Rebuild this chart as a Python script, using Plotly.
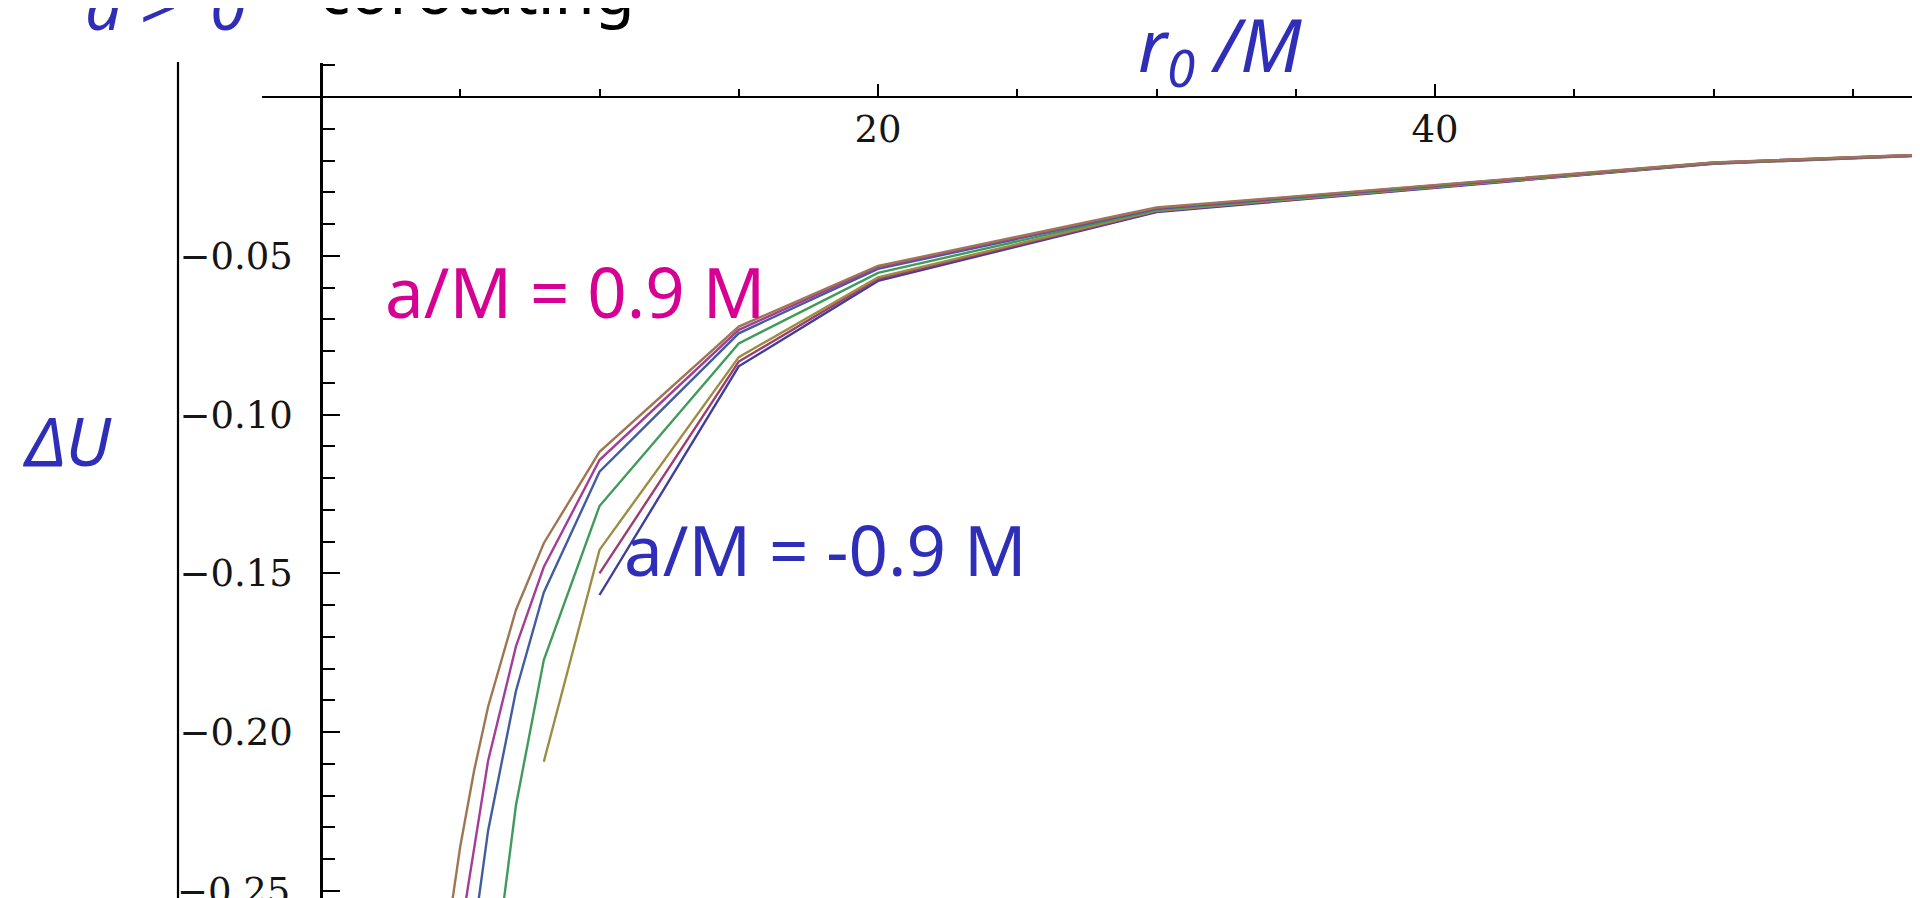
import plotly.graph_objects as go

# ---------------- data ----------------
spins = ["-0.9", "-0.6", "-0.3", "0", "0.3", "0.6", "0.9"]

r0_m09 = [10, 15, 20, 30, 50, 60]
dU_m09 = [-0.1568, -0.0848, -0.0579, -0.0362, -0.0210, -0.0176]

r0_m06 = [10, 15, 20, 30, 50, 60]
dU_m06 = [-0.1500, -0.0833, -0.0573, -0.0360, -0.0209, -0.0175]

r0_m03 = [8, 10, 15, 20, 30, 50, 60]
dU_m03 = [-0.2093, -0.1426, -0.0819, -0.0568, -0.0358, -0.0209, -0.0175]

r0_p00 = [6, 7, 8, 10, 15, 20, 30, 50, 60]
dU_p00 = [-0.292, -0.223, -0.1773, -0.1288, -0.0776, -0.0554, -0.0355, -0.0208, -0.0174]

r0_p03 = [5.5, 6, 7, 8, 10, 15, 20, 30, 50, 60]
dU_p03 = [-0.263, -0.231, -0.187, -0.156, -0.118, -0.0744, -0.0541, -0.0352, -0.0207, -0.0174]

r0_p06 = [5, 5.5, 6, 7, 8, 10, 15, 20, 30, 50, 60]
dU_p06 = [-0.264, -0.237, -0.209, -0.173, -0.148, -0.1143, -0.0733, -0.0536, -0.0350, -0.0207, -0.0174]

r0_p09 = [4.5, 5, 5.5, 6, 7, 8, 10, 15, 20, 30, 50, 60]
dU_p09 = [-0.266, -0.236, -0.212, -0.192, -0.1615, -0.1405, -0.1117, -0.0723, -0.0532, -0.0348, -0.0206, -0.0173]

x_tickvals = [20, 40]
x_ticktext = ["20", "40"]
x_minorvals = [5, 10, 15, 25, 30, 35, 45, 50, 55]
y_tickvals = [-0.05, -0.10, -0.15, -0.20, -0.25]
y_ticktext = ["\u22120.05", "\u22120.10", "\u22120.15", "\u22120.20", ""]
y_edge_label = "\u22120.25"          # bottom label, cut by the picture edge
y_edge_value = -0.25
y_minorvals = [0.01, -0.01, -0.02, -0.03, -0.04, -0.06, -0.07, -0.08, -0.09,
               -0.11, -0.12, -0.13, -0.14, -0.16, -0.17, -0.18, -0.19,
               -0.21, -0.22, -0.23, -0.24]

series = [
    (r0_m09, dU_m09, "rgb(62,62,155)"),
    (r0_m06, dU_m06, "rgb(160,60,112)"),
    (r0_m03, dU_m03, "rgb(158,140,66)"),
    (r0_p00, dU_p00, "rgb(64,155,90)"),
    (r0_p03, dU_p03, "rgb(66,92,160)"),
    (r0_p06, dU_p06, "rgb(165,60,150)"),
    (r0_p09, dU_p09, "rgb(158,118,82)"),
]

# ---------------- layout geometry ----------------
# the page body has an 8px margin, so figure pixel = screen pixel - 8
OFF = 8
W, H = 1920 - OFF, 898 - OFF
ML, MT = 262 - OFF, 63 - OFF
PW, PH = W - ML, H - MT


def pxp(p):
    """screen pixel x -> paper fraction"""
    return (p - OFF - ML) / PW


def pyp(p):
    """screen pixel y -> paper fraction"""
    return (H - (p - OFF)) / PH


X0_PIX, X_SCALE = 321 - OFF, 27.85
Y0_PIX, Y_SCALE = 97 - OFF, 3176
x_range = [(ML - X0_PIX) / X_SCALE, (W - X0_PIX) / X_SCALE]
y_range = [-(H - Y0_PIX) / Y_SCALE, (Y0_PIX - MT) / Y_SCALE]

BLUE = "rgb(46,46,184)"
MAGENTA = "rgb(214,0,147)"
SANS = "Noto Sans"

fig = go.Figure()
for (xs, ys, col), s in zip(series, spins):
    fig.add_trace(go.Scatter(x=xs, y=ys, mode="lines", name="a/M = " + s,
                             line=dict(color=col, width=2.4), showlegend=False))

tickfont = dict(family="DejaVu Serif", size=37, color="#151515")

fig.update_layout(
    width=W, height=H,
    margin=dict(l=ML, r=0, t=MT, b=0, pad=0),
    paper_bgcolor="white", plot_bgcolor="white",
    xaxis=dict(
        range=x_range, anchor="free", position=(H - Y0_PIX) / PH, side="bottom",
        showgrid=False, zeroline=False,
        showline=True, linecolor="black", linewidth=2,
        tickmode="array", tickvals=x_tickvals, ticktext=x_ticktext,
        ticks="inside", ticklen=12, tickwidth=2, tickcolor="black",
        tickfont=tickfont, ticklabelstandoff=0,
        minor=dict(tickmode="array", tickvals=x_minorvals, ticks="inside",
                   ticklen=7, tickwidth=2, tickcolor="black", showgrid=False),
    ),
    yaxis=dict(
        range=y_range, anchor="free", position=(X0_PIX - ML) / PW, side="left",
        showgrid=False, zeroline=False,
        showline=True, linecolor="black", linewidth=2.5,
        tickmode="array", tickvals=y_tickvals, ticktext=y_ticktext,
        ticks="inside", ticklen=17, tickwidth=2, tickcolor="black",
        tickfont=tickfont, ticklabelstandoff=20,
        minor=dict(tickmode="array", tickvals=y_minorvals, ticks="inside",
                   ticklen=12, tickwidth=2, tickcolor="black", showgrid=False),
    ),
)

# bottom tick label (partly below the picture edge, as in the reference)
fig.add_annotation(text=y_edge_label, xref="paper", yref="y",
                   x=pxp(292), y=y_edge_value, xanchor="right", yanchor="middle",
                   showarrow=False, font=tickfont)

# left frame line of the slide picture
fig.add_shape(type="line", xref="paper", yref="paper",
              x0=pxp(178), x1=pxp(178), y0=0, y1=pyp(62),
              line=dict(color="black", width=2.2))


def note(text, xc, yc, color, size, xanchor="center"):
    fig.add_annotation(text=text, xref="paper", yref="paper",
                       x=pxp(xc), y=pyp(yc), xanchor=xanchor, yanchor="middle",
                       showarrow=False, font=dict(family=SANS, size=size, color=color))


note("<i>a &gt; \u00a00</i>", 165, 5, BLUE, 65)
note("corotating", 317, -11, "black", 65, xanchor="left")
note("<i>r<sub>0</sub> /M</i>", 1220, 48, BLUE, 73)
note("<i>\u0394U</i>", 67, 440, BLUE, 67)
note("a/M = 0.9 M", 575, 291, MAGENTA, 69)
note("a/M = -0.9 M", 825, 549, BLUE, 69)

fig.write_html("out.html")
